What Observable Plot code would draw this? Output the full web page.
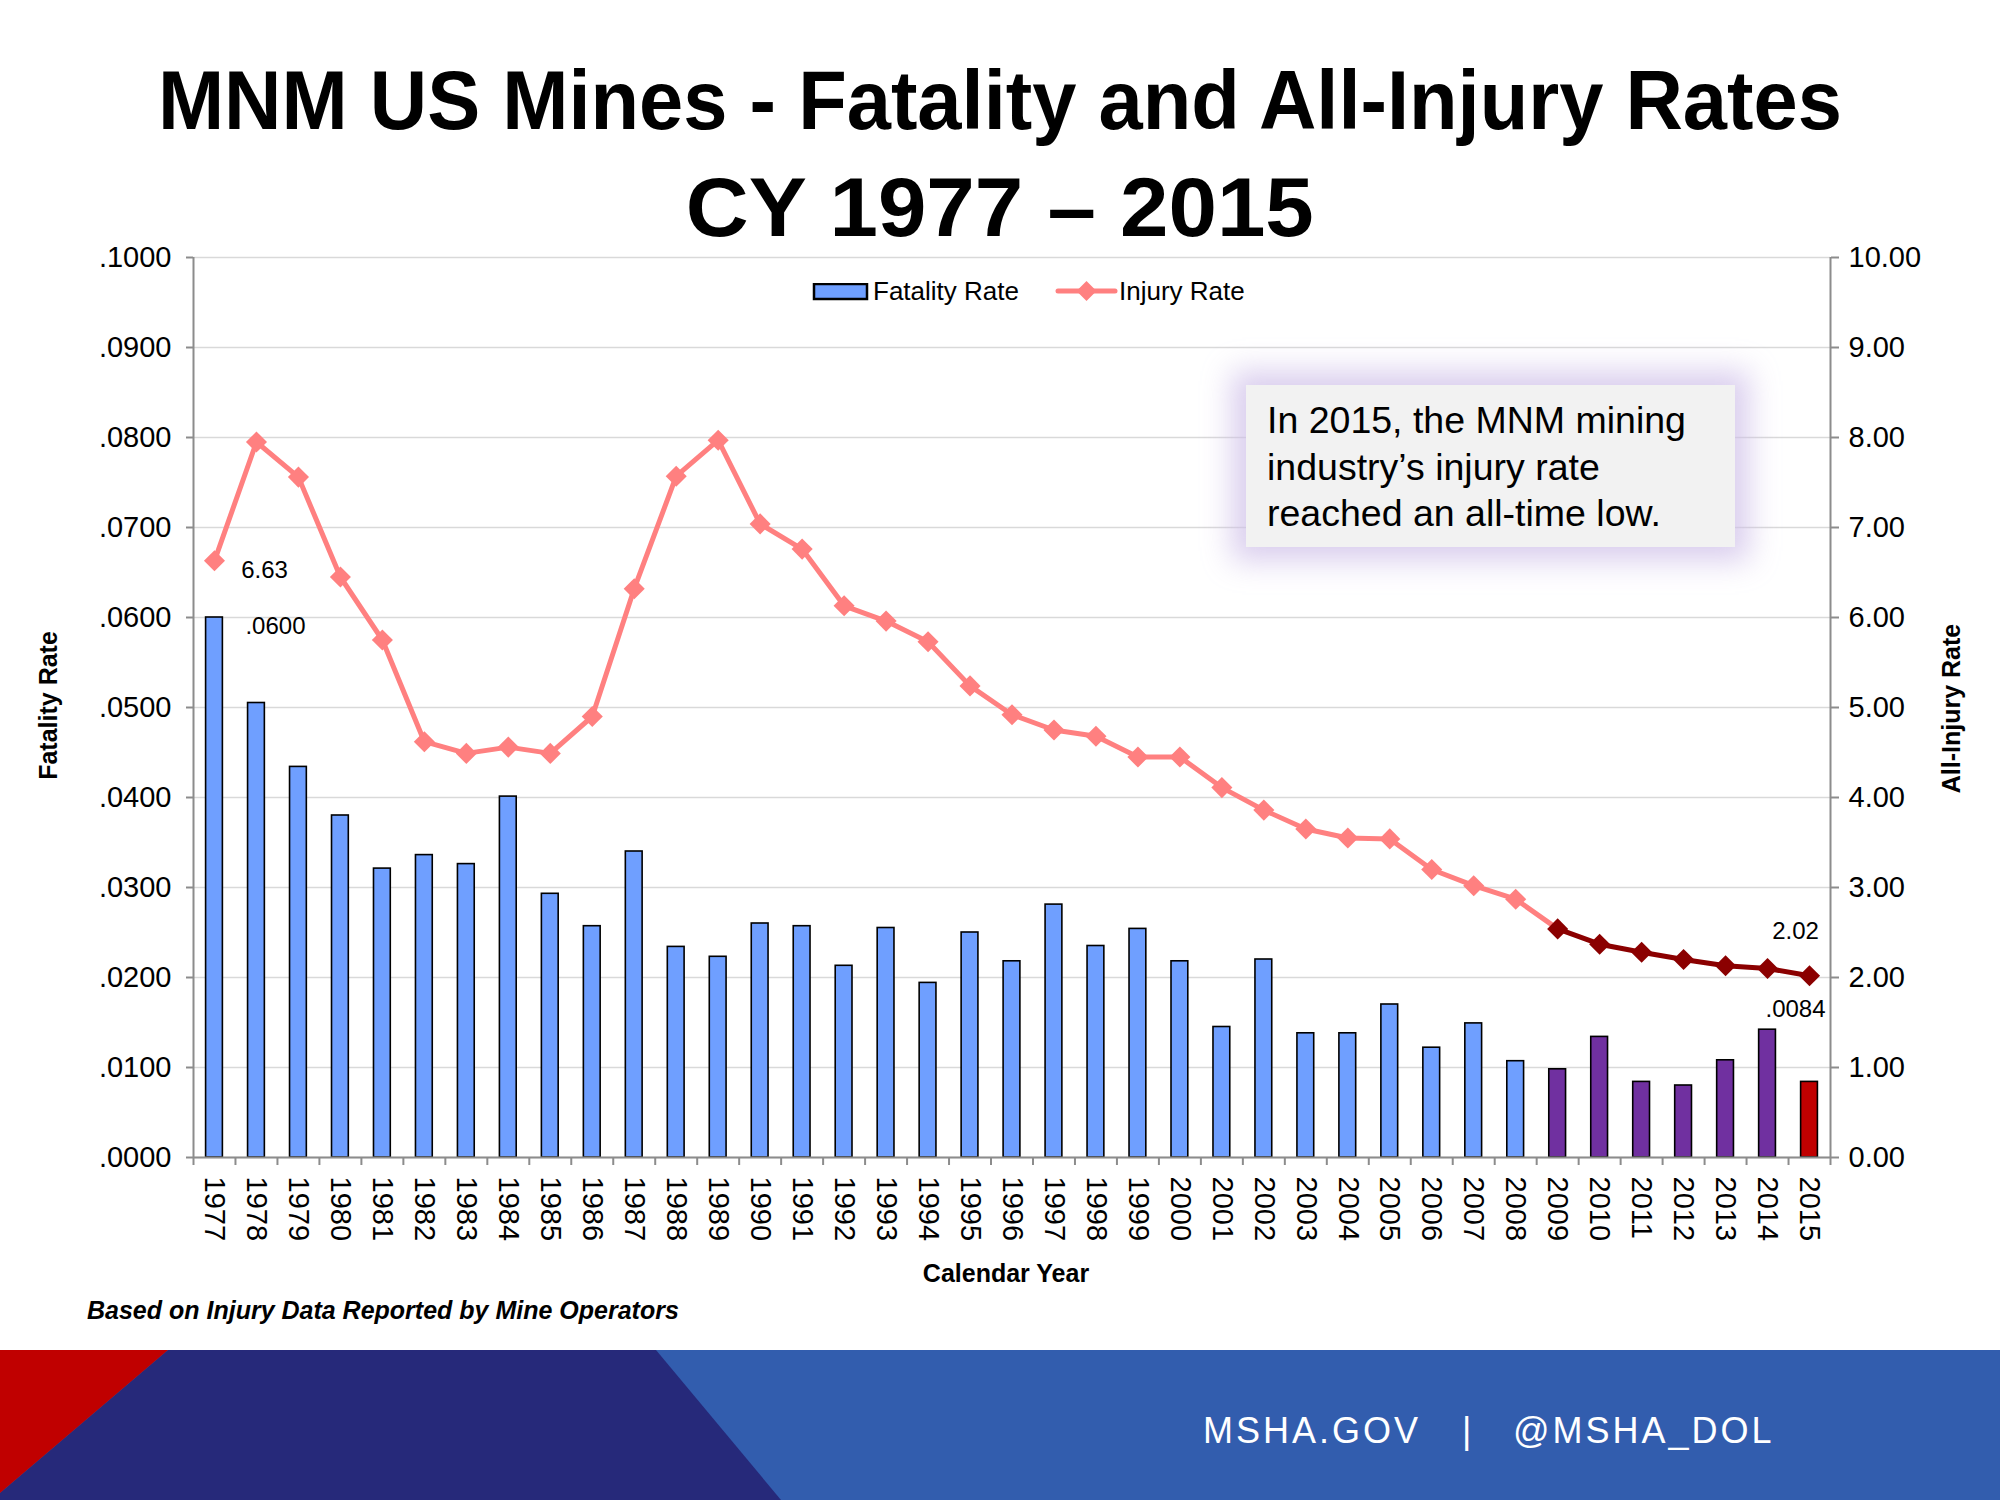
<!DOCTYPE html>
<html>
<head>
<meta charset="utf-8">
<script src="https://cdn.jsdelivr.net/npm/d3@7"></script>
<script src="https://cdn.jsdelivr.net/npm/@observablehq/plot@0.6"></script>
<style>
  html, body { margin: 0; padding: 0; background: #fff; }
  #page { position: relative; width: 2000px; height: 1500px; overflow: hidden; background: #fff;
          font-family: "Liberation Sans", Arial, sans-serif; color: #000; }
  .abs { position: absolute; white-space: pre; }
  #title1, #title2 { left: 0; width: 2000px; text-align: center; font-weight: bold; font-size: 84px; line-height: 84px; }
  #title1 { top: 58px; }
  #title2 { top: 165px; }
  #chart { position: absolute; left: 0; top: 240px; }
  .axtitle { font-weight: bold; font-size: 25px; line-height: 25px; transform-origin: 50% 50%; }
  #legend span { position: absolute; font-size: 26px; line-height: 26px; }
  #note { left: 1246px; top: 385px; width: 489px; height: 162px; background: #F2F2F2;
          box-shadow: 0 0 28px 14px rgba(205, 190, 232, 0.75); }
  #note div { position: absolute; left: 21px; top: 12px; font-size: 37.5px; line-height: 46.7px; white-space: pre; }
  #foot { left: 87px; top: 1298px; font-size: 25px; line-height: 25px; font-weight: bold; font-style: italic; }
  #band { position: absolute; left: 0; top: 1350px; width: 2000px; height: 150px; background: #325DAE; }
  #band svg { position: absolute; left: 0; top: 0; }
  .web { position: absolute; color: #fff; font-size: 36px; line-height: 36px; letter-spacing: 3px; top: 63px; }
</style>
</head>
<body>
<div id="page">
  <div id="title1" class="abs">MNM US Mines - Fatality and All-Injury Rates</div>
  <div id="title2" class="abs">CY 1977 – 2015</div>
  <div id="chart"></div>
  <div id="legend"></div>
  <div id="note" class="abs"><div>In 2015, the MNM mining
industry’s injury rate
reached an all-time low.</div></div>
  <div id="ytitleL" class="abs axtitle">Fatality Rate</div>
  <div id="ytitleR" class="abs axtitle">All-Injury Rate</div>
  <div id="xtitle" class="abs axtitle">Calendar Year</div>
  <div id="foot" class="abs">Based on Injury Data Reported by Mine Operators</div>
  <div id="band">
    <svg width="2000" height="150">
      <polygon points="0,150 0,143 168,0 656,0 781,150" fill="#26297A"></polygon>
      <polygon points="0,0 168,0 0,143" fill="#C00000"></polygon>
    </svg>
    <div class="web" style="left:1203px">MSHA.GOV</div>
    <div class="web" style="left:1462px">|</div>
    <div class="web" style="left:1513px">@MSHA_DOL</div>
  </div>
</div>
<script>
// ---------------- data ----------------
const years = [1977, 1978, 1979, 1980, 1981, 1982, 1983, 1984, 1985, 1986,
               1987, 1988, 1989, 1990, 1991, 1992, 1993, 1994, 1995, 1996,
               1997, 1998, 1999, 2000, 2001, 2002, 2003, 2004, 2005, 2006,
               2007, 2008, 2009, 2010, 2011, 2012, 2013, 2014, 2015];
const fatalityRate = [0.0600, 0.0505, 0.0434, 0.0380, 0.0321, 0.0336, 0.0326, 0.0401, 0.0293, 0.0257,
                      0.0340, 0.0234, 0.0223, 0.0260, 0.0257, 0.0213, 0.0255, 0.0194, 0.0250, 0.0218,
                      0.0281, 0.0235, 0.0254, 0.0218, 0.0145, 0.0220, 0.0138, 0.0138, 0.0170, 0.0122,
                      0.0149, 0.0107, 0.0098, 0.0134, 0.0084, 0.0080, 0.0108, 0.0142, 0.0084];
const injuryRate = [6.63, 7.95, 7.56, 6.45, 5.75, 4.62, 4.49, 4.56, 4.49, 4.90,
                    6.32, 7.57, 7.97, 7.04, 6.76, 6.13, 5.96, 5.73, 5.24, 4.92,
                    4.75, 4.68, 4.45, 4.45, 4.11, 3.86, 3.65, 3.55, 3.54, 3.20,
                    3.02, 2.87, 2.54, 2.37, 2.28, 2.20, 2.13, 2.10, 2.02];
const fatalityTicks = [0, 0.01, 0.02, 0.03, 0.04, 0.05, 0.06, 0.07, 0.08, 0.09, 0.10];
const injuryTicks = [0, 1, 2, 3, 4, 5, 6, 7, 8, 9, 10];
const labeledYears = [1977, 2015];
const recentStart = 2009;   // highlighted period (dark red / purple)
const latestYear = 2015;

// ---------------- styles ----------------
const BLUE = "#6F9FFF", PURPLE = "#7030A0", RED = "#C00000";
const SALMON = "#FF8080", DARKRED = "#8B0000";
const AXIS = "#8C8C8C", GRID = "#D9D9D9";
const TICKFONT = 29;

const rows = years.map((year, i) => ({year, fatality: fatalityRate[i], injury: injuryRate[i]}));
const barColor = d => d.year === latestYear ? RED : d.year >= recentStart ? PURPLE : BLUE;
const fmtFat = v => d3.format(".4f")(v).replace(/^0/, "");
const fmtInj = v => d3.format(".2f")(v);
const injMax = d3.max(injuryTicks), fatMax = d3.max(fatalityTicks);
const toY = v => v / injMax * fatMax;   // map injury onto the fatality scale
const xDomain = [years[0] - 0.5, years[years.length - 1] + 0.5];
const boundaries = years.map(y => y - 0.5).concat([xDomain[1]]);
const first = rows.filter(d => d.year === labeledYears[0]);
const last = rows.filter(d => d.year === labeledYears[1]);

const chart = Plot.plot({
  width: 2000, height: 1060,
  marginLeft: 193, marginRight: 170, marginTop: 17, marginBottom: 143,
  x: {domain: xDomain, axis: null},
  y: {domain: [0, fatMax], axis: null},
  style: {fontFamily: "'Liberation Sans', Arial, sans-serif", fontSize: "26px", color: "#000", background: "transparent", overflow: "visible"},
  marks: [
    Plot.gridY(fatalityTicks, {stroke: GRID, strokeOpacity: 1, strokeWidth: 1.6}),
    Plot.rectY(rows, {x1: d => d.year - 0.2, x2: d => d.year + 0.2, y1: 0, y2: "fatality",
                      fill: barColor, stroke: "#000", strokeWidth: 1.6}),
    Plot.ruleY([0], {stroke: AXIS, strokeWidth: 2}),
    Plot.ruleX(xDomain, {y1: 0, y2: fatMax, stroke: AXIS, strokeWidth: 2}),
    Plot.axisY(fatalityTicks, {anchor: "left", tickFormat: fmtFat, tickSize: 7, tickPadding: 15,
                               stroke: AXIS, strokeWidth: 2, fill: "#000", fontSize: TICKFONT, label: null}),
    Plot.axisY(fatalityTicks, {anchor: "right", tickFormat: (v, i) => fmtInj(injuryTicks[i]), tickSize: 8, tickPadding: 10,
                               stroke: AXIS, strokeWidth: 2, fill: "#000", fontSize: TICKFONT, label: null}),
    Plot.axisX(years, {anchor: "bottom", tickSize: 0, tickPadding: 19, tickRotate: 90, tickFormat: d => String(d),
                       fill: "#000", fontSize: TICKFONT, label: null}),
    Plot.axisX(boundaries, {anchor: "bottom", tickSize: 8, tickFormat: () => "", stroke: AXIS, strokeWidth: 2, label: null}),
    Plot.line(rows.filter(d => d.year <= recentStart), {x: "year", y: d => toY(d.injury), stroke: SALMON, strokeWidth: 5}),
    Plot.line(rows.filter(d => d.year >= recentStart), {x: "year", y: d => toY(d.injury), stroke: DARKRED, strokeWidth: 5}),
    Plot.dot(rows, {x: "year", y: d => toY(d.injury), symbol: "diamond2", r: 9.5,
                    fill: d => d.year >= recentStart ? DARKRED : SALMON, stroke: null}),
    Plot.text(first, {x: "year", y: d => toY(d.injury), text: d => fmtInj(d.injury), dx: 50, dy: 10, fontSize: 24, fill: "#000"}),
    Plot.text(first, {x: "year", y: "fatality", text: d => fmtFat(d.fatality), dx: 61, dy: 9, fontSize: 24, fill: "#000"}),
    Plot.text(last, {x: "year", y: d => toY(d.injury), text: d => fmtInj(d.injury), dx: -14, dy: -44, fontSize: 24, fill: "#000"}),
    Plot.text(last, {x: "year", y: "fatality", text: d => fmtFat(d.fatality), dx: -14, dy: -73, fontSize: 24, fill: "#000"})
  ]
});
document.getElementById("chart").appendChild(chart);

// ---------------- legend (HTML) ----------------
const legend = document.getElementById("legend");
legend.innerHTML = `
  <svg style="position:absolute;left:812px;top:283px" width="60" height="20">
    <rect x="2" y="1" width="53" height="15" fill="${BLUE}" stroke="#000" stroke-width="2.5"></rect>
  </svg>
  <span style="left:873px;top:278px">Fatality Rate</span>
  <svg style="position:absolute;left:1055px;top:279px" width="64" height="24">
    <line x1="3" y1="12" x2="60" y2="12" stroke="${SALMON}" stroke-width="5" stroke-linecap="round"></line>
    <path d="M31.5,2 L41.5,12 L31.5,22 L21.5,12 Z" fill="${SALMON}"></path>
  </svg>
  <span style="left:1119px;top:278px">Injury Rate</span>`;

// ---------------- text fitting / placement ----------------
function fitWidth(el, target) {
  const inner = document.createElement("span");
  inner.textContent = el.textContent;
  inner.style.display = "inline-block";
  el.textContent = "";
  el.appendChild(inner);
  const s = target / inner.getBoundingClientRect().width;
  inner.style.transform = `scaleX(${s})`;
}
fitWidth(document.getElementById("title1"), 1684);
fitWidth(document.getElementById("title2"), 628);

function center(el, cx, cy, rot) {
  const r = el.getBoundingClientRect();
  el.style.left = (cx - r.width / 2) + "px";
  el.style.top = (cy - r.height / 2) + "px";
  if (rot) el.style.transform = `rotate(${rot}deg)`;
}
center(document.getElementById("ytitleL"), 48, 705, -90);
center(document.getElementById("ytitleR"), 1952, 708, -90);
center(document.getElementById("xtitle"), 1006, 1273, 0);
</script>
</body>
</html>
